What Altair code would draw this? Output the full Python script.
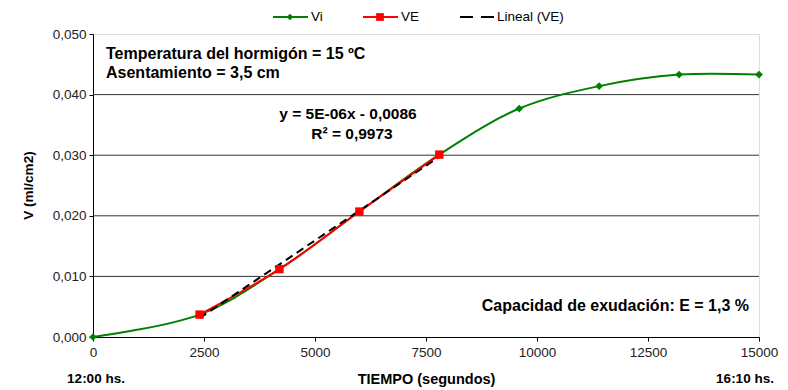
import altair as alt
import pandas as pd

# ---- data ----
vi_t = [0, 2400, 4200, 6000, 7800, 9600, 11400, 13200, 15000]
vi_v = [0.0000, 0.0037, 0.0112, 0.0207, 0.0301, 0.0377, 0.0414, 0.0433, 0.0433]
ve_t = [2400, 4200, 6000, 7800]
ve_v = [0.0037, 0.0112, 0.0207, 0.0301]
x_ticks = [0, 2500, 5000, 7500, 10000, 12500, 15000]
y_ticks = [0.000, 0.005, 0.010, 0.015, 0.020, 0.025, 0.030, 0.035, 0.040, 0.045, 0.050]
y_grid = [0.010, 0.020, 0.030, 0.040]
legend_labels = ["Vi", "VE", "Lineal (VE)"]

FONT = "Liberation Sans"
GREEN = "#008000"
RED = "#FF0000"

vi = pd.DataFrame({"t": vi_t, "v": vi_v})
ve = pd.DataFrame({"t": ve_t, "v": ve_v})
grid = pd.DataFrame({"v": y_grid})

W, H = 666, 303

xs = alt.Scale(domain=[0, 15000], nice=False, zero=False)
ys = alt.Scale(domain=[0, 0.05], nice=False)

x_enc = alt.X("t:Q", scale=xs, axis=alt.Axis(
    values=x_ticks, format="d", title="TIEMPO (segundos)", titleFont=FONT, titleFontSize=14.5,
    titleFontWeight="bold", titleColor="#000", titleY=42, titleBaseline="middle",
    labelFont=FONT, labelFontSize=13.5, labelColor="#222", labelPadding=4,
    tickSize=4, tickColor="#000", domainColor="#000", grid=False, labelFlush=False))
y_enc = alt.Y("v:Q", scale=ys, axis=alt.Axis(
    values=y_ticks, title="V (ml/cm2)", titleFont=FONT, titleFontSize=13.5,
    titleFontWeight="bold", titleColor="#000", titleX=-65, titleY=151,
    titleBaseline="middle", titleAlign="center",
    labelExpr="(round(datum.value*1000) % 10 == 0) ? replace(format(datum.value, '.3f'), '.', ',') : ''",
    labelFont=FONT, labelFontSize=13.5, labelColor="#222", labelPadding=3,
    tickSize=4, tickColor="#000", domainColor="#000", grid=False))

gridlines = alt.Chart(grid).mark_rule(color="#333", strokeWidth=1).encode(
    y=alt.Y("v:Q", scale=ys))

vi_line = alt.Chart(vi).mark_line(color=GREEN, strokeWidth=2, interpolate="catmull-rom").encode(
    x=x_enc, y=y_enc)
vi_pts = alt.Chart(vi).mark_point(shape="diamond", filled=True, color=GREEN, size=60, opacity=1).encode(
    x=alt.X("t:Q", scale=xs), y=alt.Y("v:Q", scale=ys))

ve_line = alt.Chart(ve).mark_line(color=RED, strokeWidth=2, interpolate="catmull-rom").encode(
    x=alt.X("t:Q", scale=xs), y=alt.Y("v:Q", scale=ys))
trend = alt.Chart(ve).transform_regression("t", "v", method="linear").mark_line(
    color="#000", strokeWidth=2, strokeDash=[8, 5]).encode(
    x=alt.X("t:Q", scale=xs), y=alt.Y("v:Q", scale=ys))
ve_pts = alt.Chart(ve).mark_point(shape="square", filled=True, color=RED, size=70, opacity=1).encode(
    x=alt.X("t:Q", scale=xs), y=alt.Y("v:Q", scale=ys))


def label(txt, x, y, size=13, weight="bold", align="left", color="#000"):
    return alt.Chart(pd.DataFrame({"a": [0]})).mark_text(
        text=txt, font=FONT, fontSize=size, fontWeight=weight, align=align,
        baseline="middle", color=color).encode(x=alt.value(x), y=alt.value(y))


def seg(x1, x2, y, color, dash=None):
    kw = dict(color=color, strokeWidth=2)
    if dash:
        kw["strokeDash"] = dash
    return alt.Chart(pd.DataFrame({"a": [0]})).mark_rule(**kw).encode(
        x=alt.value(x1), x2=alt.value(x2), y=alt.value(y))


def sym(x, y, shape, color, size):
    return alt.Chart(pd.DataFrame({"a": [0]})).mark_point(
        shape=shape, filled=True, color=color, size=size, opacity=1).encode(
        x=alt.value(x), y=alt.value(y))


LY = -17
legend = [
    seg(180, 215, LY, GREEN), sym(197, LY, "diamond", GREEN, 45),
    label(legend_labels[0], 218, LY, size=13.5, weight="normal"),
    seg(270, 305, LY, RED), sym(287, LY, "square", RED, 60),
    label(legend_labels[1], 308, LY, size=13.5, weight="normal"),
    seg(367, 401, LY, "#000", [13, 8]),
    label(legend_labels[2], 404, LY, size=13.5, weight="normal"),
]

annots = [
    label("Temperatura del hormigón = 15 ºC", 13, 20, size=16),
    label("Asentamiento = 3,5 cm", 13, 39, size=16),
    label("y = 5E-06x - 0,0086", 255, 80, size=15.5, align="center"),
    label("R² = 0,9973", 259, 100, size=15.5, align="center"),
    label("Capacidad de exudación: E = 1,3 %", 656, 272, size=16, align="right"),
    label("12:00 hs.", 3, 345, size=13.5, align="center"),
    label("16:10 hs.", 652, 345, size=13.5, align="center"),
]

chart = alt.layer(
    gridlines, vi_line, vi_pts, ve_line, trend, ve_pts, *legend, *annots
).properties(
    width=W, height=H,
    autosize=alt.AutoSizeParams(type="none"),
    padding={"left": 85, "top": 26, "right": 21, "bottom": 52},
).configure_view(
    stroke="#888", strokeWidth=1
).configure(background="white")

chart.save("out.html", embed_options={"renderer": "svg", "actions": False})
